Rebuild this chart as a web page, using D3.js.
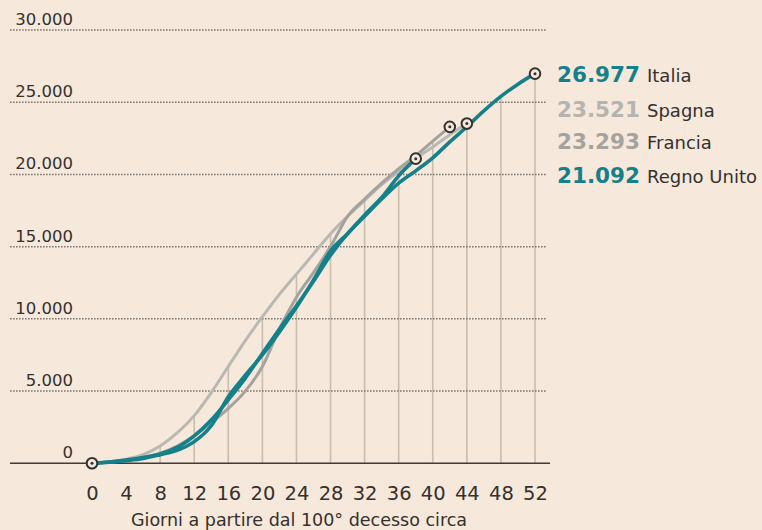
<!DOCTYPE html>
<html>
<head>
<meta charset="utf-8">
<script src="https://cdn.jsdelivr.net/npm/d3@7"></script>
<style>
  html, body { margin: 0; padding: 0; background: #f6e8da; }
  svg { display: block; }
  text { font-family: "DejaVu Sans", sans-serif; }
</style>
</head>
<body>
<svg id="chart" width="762" height="530"></svg>
<script>
// ---- data ----
const days = d3.range(0, 53, 2); // 0,2,...,52
const italia   = [0, 90, 220, 400, 650, 1100, 1900, 3000, 4400, 5900, 7600, 9300, 10900, 12600, 14400, 15900, 17100, 18300, 19400, 20250, 21150, 22250, 23300, 24400, 25400, 26250, 26977];
const regnoUnito = [0, 70, 180, 330, 600, 900, 1500, 2600, 4600, 6100, 7500, 9100, 10800, 12700, 14700, 15900, 17200, 18400, 19900, 21092];
const spagna   = [0, 100, 280, 600, 1200, 2100, 3300, 4900, 6700, 8500, 10150, 11700, 13100, 14500, 15900, 17100, 18200, 19300, 20200, 21100, 21900, 22750, 23521];
const francia  = [0, 80, 200, 400, 700, 1200, 1900, 2800, 3800, 5000, 6700, 9300, 11500, 13200, 15000, 17100, 18300, 19400, 20400, 21300, 22300, 23293];

const xTicks = d3.range(0, 53, 4);
const yTicks = [0, 5000, 10000, 15000, 20000, 25000, 30000];
const labelNames  = ["Italia", "Spagna", "Francia", "Regno Unito"];
const labelValues = [26977, 23521, 23293, 21092];
const xTitle = "Giorni a partire dal 100° decesso circa";

// ---- styles / layout ----
const TEAL = "#16808a";
const GRAY_LIGHT = "#b9b8b3";
const GRAY_DARK = "#a3a29d";
const INK = "#34312e";
const series = [
  { name: "Spagna", values: spagna, color: GRAY_LIGHT, w: 3 },
  { name: "Francia", values: francia, color: GRAY_DARK, w: 3 },
  { name: "Regno Unito", values: regnoUnito, color: TEAL, w: 3.6 },
  { name: "Italia", values: italia, color: TEAL, w: 3.6 }
];
const labelStyle = {
  "Italia": { color: TEAL, y: 82 },
  "Spagna": { color: "#b5b4b0", y: 116.5 },
  "Francia": { color: "#a4a39f", y: 148.5 },
  "Regno Unito": { color: TEAL, y: 183 }
};

const svg = d3.select("#chart");
const x = d3.scaleLinear().domain([0, 52]).range([92, 535]);
const y = d3.scaleLinear().domain([0, 30000]).range([463.3, 30]);
const fmt = d3.formatLocale({ decimal: ",", thousands: ".", grouping: [3], currency: ["", ""] }).format(",d");

// vertical grid lines: from baseline up to the highest curve at that day
const valueAt = (arr, d) => { const i = d / 2; return i < arr.length ? arr[i] : null; };
const gV = svg.append("g");
xTicks.filter(d => d > 0).forEach(d => {
  const vals = series.map(s => valueAt(s.values, d)).filter(v => v !== null);
  const top = d3.max(vals);
  gV.append("line")
    .attr("x1", x(d)).attr("x2", x(d))
    .attr("y1", y(0)).attr("y2", y(top))
    .attr("stroke", "#c9bdae").attr("stroke-width", 1.6);
});

// horizontal dotted grid + y labels
const yAxis = d3.axisLeft(y).tickValues(yTicks).tickFormat(fmt).tickSize(0);
const gY = svg.append("g").attr("transform", "translate(73,0)").call(yAxis);
gY.select(".domain").remove();
gY.selectAll("text")
  .attr("x", 0).attr("dy", "-0.33em")
  .attr("fill", INK).attr("font-size", 16.5)
  .attr("text-anchor", "end").attr("font-family", "DejaVu Sans");
yTicks.filter(v => v > 0).forEach(v => {
  svg.append("line")
    .attr("x1", 10).attr("x2", 547)
    .attr("y1", y(v)).attr("y2", y(v))
    .attr("stroke", "#7d7872").attr("stroke-width", 1.5)
    .attr("stroke-dasharray", "1.6,1.4");
});
// baseline
svg.append("line")
  .attr("x1", 10).attr("x2", 550).attr("y1", y(0)).attr("y2", y(0))
  .attr("stroke", "#3f3b37").attr("stroke-width", 1.6);

// x axis labels
const xAxis = d3.axisBottom(x).tickValues(xTicks).tickFormat(d3.format("d")).tickSize(0);
const gX = svg.append("g").attr("transform", `translate(0,${y(0)})`).call(xAxis);
gX.select(".domain").remove();
gX.selectAll("text")
  .attr("y", 36.3).attr("dy", 0)
  .attr("fill", INK).attr("font-size", 19.5).attr("font-family", "DejaVu Sans");
svg.append("text")
  .attr("x", 299).attr("y", 526)
  .attr("text-anchor", "middle").attr("fill", INK)
  .attr("font-size", 17.5).text(xTitle);

// lines
const line = d3.line().x((v, i) => x(days[i])).y(v => y(v)).curve(d3.curveMonotoneX);
series.forEach(s => {
  svg.append("path").datum(s.values)
    .attr("d", line).attr("fill", "none")
    .attr("stroke", s.color).attr("stroke-width", s.w)
    .attr("stroke-linejoin", "round").attr("stroke-linecap", "round");
});

// markers
function marker(cx, cy) {
  svg.append("circle").attr("cx", cx).attr("cy", cy).attr("r", 5.3)
    .attr("fill", "#f3e9de").attr("stroke", INK).attr("stroke-width", 2);
  svg.append("circle").attr("cx", cx).attr("cy", cy).attr("r", 1.5).attr("fill", INK);
}
marker(x(0), y(0));
series.forEach(s => {
  const i = s.values.length - 1;
  marker(x(days[i]), y(s.values[i]));
});

// right labels
labelNames.forEach((n, i) => {
  const st = labelStyle[n];
  const t = svg.append("text").attr("x", 557).attr("y", st.y);
  t.append("tspan").attr("fill", st.color).attr("font-weight", 700)
    .attr("font-size", 21.5).text(fmt(labelValues[i]));
  t.append("tspan").attr("x", 647).attr("fill", INK)
    .attr("font-size", 18).text(n);
});
</script>
</body>
</html>
